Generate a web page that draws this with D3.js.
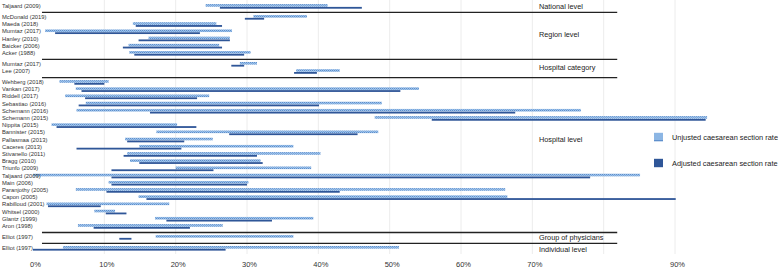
<!DOCTYPE html>
<html>
<head>
<meta charset="utf-8">
<script src="https://cdn.jsdelivr.net/npm/d3@7"></script>
<style>
html,body{margin:0;padding:0;background:#fff;}
svg{display:block;font-family:"Liberation Sans",Arial,Helvetica,sans-serif;}
</style>
</head>
<body>
<svg id="chart" width="778" height="269"></svg>
<script>
const groups = ["National level","Region level","Hospital category","Hospital level","Group of physicians","Individual level"];
const studies = ["Taljaard (2009)","McDonald (2019)","Maeda (2018)","Mumtaz (2017)","Hanley (2010)","Baicker (2006)","Acker (1988)",
  "Mumtaz (2017)","Lee (2007)",
  "Wehberg (2018)","Vankan (2017)","Riddell (2017)","Sebastiao (2016)","Schemann (2016)","Schemann (2015)","Nippita (2015)","Bannister (2015)",
  "Pallasmaa (2013)","Caceres (2013)","Stivanello (2011)","Bragg (2010)","Triunfo (2009)","Taljaard (2009)","Main (2006)","Paranjothy (2005)",
  "Capon (2005)","Rabilloud (2001)","Whitsel (2000)","Glantz (1999)","Aron (1998)",
  "Elliot (1997)","Elliot (1997)"];
const studyGroup = [0,1,1,1,1,1,1,2,2,3,3,3,3,3,3,3,3,3,3,3,3,3,3,3,3,3,3,3,3,3,4,5];
const unadjLow  = [24.2,30.9,14.0,1.7,16.2,13.4,13.5,29.0,36.9,3.7,6.0,4.5,7.4,6.1,47.9,2.6,17.3,12.9,14.9,13.2,13.6,20.0,0.0,10.6,6.0,14.8,1.9,8.6,17.1,6.3,17.2,4.2];
const unadjHigh = [41.3,38.4,25.7,27.9,27.6,26.1,30.5,31.4,43.0,10.6,54.1,24.7,48.9,76.8,94.5,20.2,48.4,25.2,36.5,40.3,31.9,39.0,85.1,30.2,66.2,66.5,19.1,11.5,39.3,26.6,36.5,51.3];
const adjLow    = [26.2,29.7,14.4,3.1,14.8,12.6,14.2,27.8,36.6,5.8,6.8,7.3,6.4,16.4,55.9,3.3,27.5,13.2,6.1,12.7,14.9,11.0,11.0,11.0,10.3,15.9,2.1,10.2,18.7,8.5,12.1,0.0];
const adjHigh   = [46.1,32.4,26.5,23.4,27.6,26.5,29.6,29.6,39.8,10.0,51.5,23.0,40.1,67.6,94.3,22.9,45.5,21.2,20.8,31.4,32.2,25.3,78.1,30.0,43.0,90.1,9.5,13.1,33.5,22.0,13.8,27.0];
const tickValues = [0,10,20,30,40,50,60,70,90];
const tickLabels = ["0%","10%","20%","30%","40%","50%","60%","70%","90%"];
const gridValues = [10,20,30,40,50,60,70,80,90];
const groupLabelRow = [0,3.5,7.5,17,30,31.2];
const legendLabels = ["Unjusted caesarean section rate","Adjusted caesarean section rate"];

const svg = d3.select("#chart");
const x = d3.scaleLinear().domain([0,90]).range([33,675]);
const groupGap = 0.52;
const y = d3.scaleLinear().domain([0,1]).range([6,13.2]);
const rowPos = i => i + studyGroup[i]*groupGap;
const rowY = i => y(rowPos(i));

const defs = svg.append("defs");
const pat = defs.append("pattern").attr("id","hatch").attr("patternUnits","userSpaceOnUse").attr("width",2).attr("height",2);
pat.append("rect").attr("width",2).attr("height",2).attr("fill","#9cc2ea");
pat.append("rect").attr("x",0).attr("y",0).attr("width",1).attr("height",1).attr("fill","#5f8fcc");
pat.append("rect").attr("x",1).attr("y",1).attr("width",1).attr("height",1).attr("fill","#7aa6db");

// grid
svg.append("g").selectAll("line").data(gridValues).join("line")
  .attr("x1",d=>x(d)).attr("x2",d=>x(d)).attr("y1",0).attr("y2",254)
  .attr("stroke","#ececec").attr("stroke-width",1);

// axis labels
const axis = d3.axisBottom(x).tickValues(tickValues).tickFormat((d,i)=>tickLabels[i]).tickSize(0).tickPadding(0);
const ag = svg.append("g").attr("transform","translate(2,262)").call(axis);
ag.select(".domain").remove();
ag.selectAll("text").attr("font-size",7.5).attr("fill","#333").attr("font-family","Liberation Sans, Arial, sans-serif");

// separators
const sepY = [];
for (let i=1;i<studies.length;i++){
  if (studyGroup[i]!==studyGroup[i-1]) sepY.push((rowY(i-1)+rowY(i))/2+1);
}
svg.append("g").selectAll("line").data(sepY).join("line")
  .attr("x1",x(1.26)).attr("x2",x(81.9)).attr("y1",d=>d).attr("y2",d=>d)
  .attr("stroke","#222").attr("stroke-width",1.3);

// bars
const idx = d3.range(studies.length);
svg.append("g").selectAll("rect").data(idx).join("rect")
  .attr("x",i=>x(unadjLow[i])).attr("width",i=>x(unadjHigh[i])-x(unadjLow[i]))
  .attr("y",i=>rowY(i)-1.9).attr("height",2.6).attr("fill","url(#hatch)");
svg.append("g").selectAll("rect").data(idx).join("rect")
  .attr("x",i=>x(adjLow[i])).attr("width",i=>x(adjHigh[i])-x(adjLow[i]))
  .attr("y",i=>rowY(i)+0.9).attr("height",1.8).attr("fill","#2f5698");

// row labels
svg.append("g").selectAll("text").data(idx).join("text")
  .attr("x",2).attr("y",i=>rowY(i)).attr("dy","0.35em")
  .attr("font-size",5.8).attr("fill","#333").text(i=>studies[i]);

// group labels
svg.append("g").selectAll("text").data(groups).join("text")
  .attr("x",539).attr("y",(d,i)=>y(groupLabelRow[i]+i*groupGap)).attr("dy","0.35em")
  .attr("font-size",7.3).attr("fill","#222").text(d=>d);

// legend
const lg = svg.append("g");
const lgColors = ["#8cb6e4","#2f5698"];
const lgY = [137,163];
lg.selectAll("rect").data(legendLabels).join("rect")
  .attr("x",654).attr("y",(d,i)=>lgY[i]-4.2).attr("width",9).attr("height",8.4)
  .attr("fill",(d,i)=>lgColors[i]);
lg.append("rect").attr("x",654).attr("y",lgY[0]+3).attr("width",9).attr("height",1.2).attr("fill","#5f8fcc");
lg.selectAll("text").data(legendLabels).join("text")
  .attr("x",672).attr("y",(d,i)=>lgY[i]).attr("dy","0.35em")
  .attr("font-size",7.4).attr("fill","#222").text(d=>d);
</script>
</body>
</html>
